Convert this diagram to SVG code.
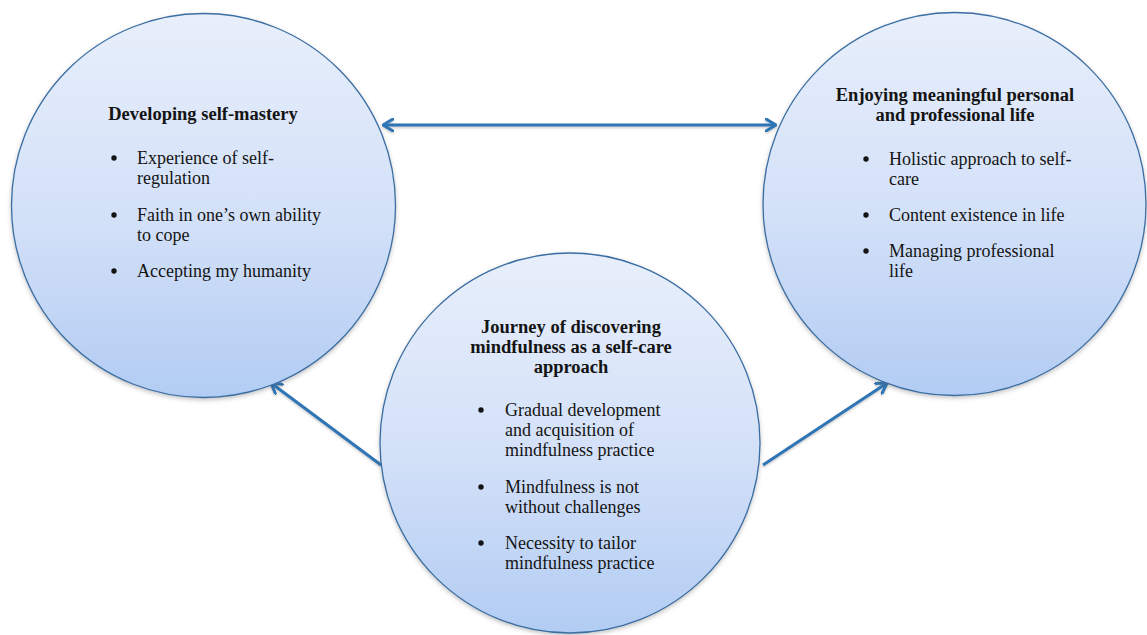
<svg xmlns="http://www.w3.org/2000/svg" width="1147" height="635" viewBox="0 0 1147 635">
  <defs>
    <linearGradient id="bubbleFill" x1="0" y1="0" x2="0" y2="1">
      <stop offset="0" stop-color="#e8effb"/>
      <stop offset="0.55" stop-color="#d2e0f8"/>
      <stop offset="1" stop-color="#b2ccf3"/>
    </linearGradient>
    <filter id="softShadow" x="-10%" y="-10%" width="120%" height="125%">
      <feDropShadow dx="0" dy="2" stdDeviation="2" flood-color="#555" flood-opacity="0.35"/>
    </filter>
    <!-- user-space region so that a perfectly horizontal line still renders -->
    <filter id="lineShadow" filterUnits="userSpaceOnUse" x="0" y="0" width="1147" height="635">
      <feDropShadow dx="0" dy="1.5" stdDeviation="1.2" flood-color="#666" flood-opacity="0.35"/>
    </filter>
    <marker id="openHead" viewBox="0 0 12 14" refX="11" refY="7" markerWidth="12" markerHeight="14" markerUnits="userSpaceOnUse" orient="auto-start-reverse">
      <path d="M1,1 L11,7 L1,13" fill="none" stroke="#2f75b5" stroke-width="3" stroke-linecap="round" stroke-linejoin="round"/>
    </marker>
  </defs>
  <style>
    .bubble { fill: url(#bubbleFill); stroke: #3b6ea3; stroke-width: 1.3; filter: url(#softShadow); }
    .title { font-family: "Liberation Serif", "Times New Roman", serif; font-weight: bold; font-size: 18.5px; fill: #141414; }
    .item { font-family: "Liberation Serif", "Times New Roman", serif; font-size: 18px; fill: #141414; }
    .dot { fill: #141414; }
    .link { fill: none; stroke: #2f75b5; stroke-width: 3; marker-end: url(#openHead); }
  </style>

  <!-- connectors -->
  <g id="connectors" filter="url(#lineShadow)">
    <line class="link" x1="383" y1="125" x2="776" y2="125" marker-start="url(#openHead)"/>
    <line class="link" x1="381" y1="465" x2="271" y2="383"/>
    <line class="link" x1="763" y1="465" x2="887" y2="383"/>
  </g>

  <!-- Developing self-mastery -->
  <g id="node-self-mastery">
    <circle class="bubble" cx="203.5" cy="205.5" r="192"/>
    <text class="title" x="203" y="120" text-anchor="middle">Developing self-mastery</text>
    <circle class="dot" cx="114" cy="158" r="2.7"/>
    <text class="item" x="137" y="164">Experience of self-</text>
    <text class="item" x="137" y="184">regulation</text>
    <circle class="dot" cx="114" cy="215" r="2.7"/>
    <text class="item" x="137" y="221">Faith in one’s own ability</text>
    <text class="item" x="137" y="241">to cope</text>
    <circle class="dot" cx="114" cy="271" r="2.7"/>
    <text class="item" x="137" y="277">Accepting my humanity</text>
  </g>

  <!-- Enjoying meaningful personal and professional life -->
  <g id="node-meaningful-life">
    <circle class="bubble" cx="954.5" cy="204" r="191.5"/>
    <text class="title" x="955" y="101" text-anchor="middle">Enjoying meaningful personal</text>
    <text class="title" x="955" y="121" text-anchor="middle">and professional life</text>
    <circle class="dot" cx="866" cy="159" r="2.7"/>
    <text class="item" x="889" y="165">Holistic approach to self-</text>
    <text class="item" x="889" y="185">care</text>
    <circle class="dot" cx="866" cy="215" r="2.7"/>
    <text class="item" x="889" y="221">Content existence in life</text>
    <circle class="dot" cx="866" cy="251" r="2.7"/>
    <text class="item" x="889" y="257">Managing professional</text>
    <text class="item" x="889" y="277">life</text>
  </g>

  <!-- Journey of discovering mindfulness -->
  <g id="node-mindfulness-journey">
    <circle class="bubble" cx="570" cy="443" r="190"/>
    <text class="title" x="571" y="333" text-anchor="middle">Journey of discovering</text>
    <text class="title" x="571" y="353" text-anchor="middle">mindfulness as a self-care</text>
    <text class="title" x="571" y="373" text-anchor="middle">approach</text>
    <circle class="dot" cx="481" cy="410" r="2.7"/>
    <text class="item" x="505" y="416">Gradual development</text>
    <text class="item" x="505" y="436">and acquisition of</text>
    <text class="item" x="505" y="456">mindfulness practice</text>
    <circle class="dot" cx="481" cy="487" r="2.7"/>
    <text class="item" x="505" y="493">Mindfulness is not</text>
    <text class="item" x="505" y="513">without challenges</text>
    <circle class="dot" cx="481" cy="543" r="2.7"/>
    <text class="item" x="505" y="549">Necessity to tailor</text>
    <text class="item" x="505" y="569">mindfulness practice</text>
  </g>
</svg>
